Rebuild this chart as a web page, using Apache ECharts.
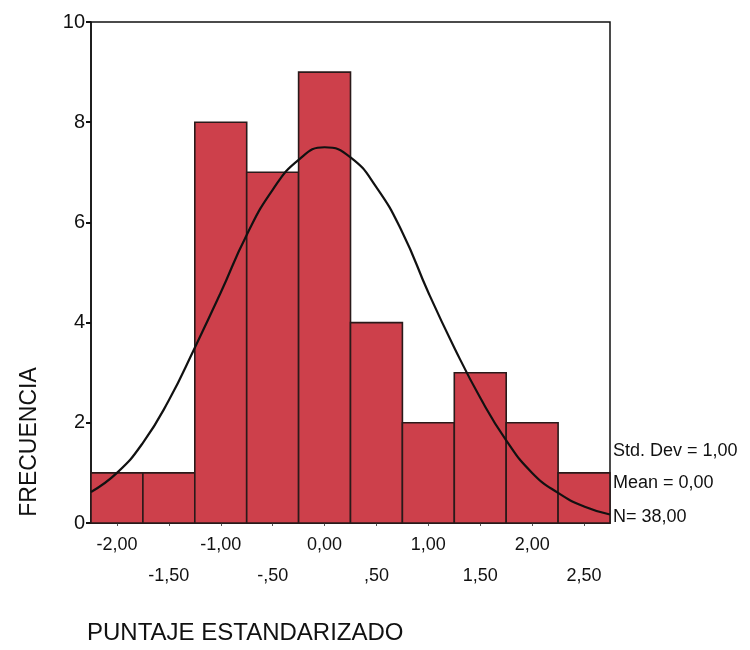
<!DOCTYPE html>
<html>
<head>
<meta charset="utf-8">
<script src="https://cdn.jsdelivr.net/npm/echarts@6/dist/echarts.min.js"></script>
<style>
html,body{margin:0;padding:0;background:#fff;}
#chart{width:750px;height:650px;}
</style>
</head>
<body>
<div id="chart"></div>
<script>
// ---- data ----
const binCenters = [-2.0, -1.5, -1.0, -0.5, 0.0, 0.5, 1.0, 1.5, 2.0, 2.5];
const counts = [1, 1, 8, 7, 9, 4, 2, 3, 2, 1];
const binWidth = 0.5;
// normal curve
const curveX = [-2.25, -2.0, -1.75, -1.5, -1.25, -1.0, -0.75, -0.5, -0.25, 0.0, 0.25, 0.5, 0.75, 1.0, 1.25, 1.5, 1.75, 2.0, 2.25, 2.5, 2.75];
const curveY = [0.62, 1.0, 1.6, 2.45, 3.5, 4.6, 5.75, 6.65, 7.25, 7.5, 7.3, 6.7, 5.8, 4.6, 3.5, 2.5, 1.65, 1.0, 0.6, 0.33, 0.17];
const yTickValues = [0, 2, 4, 6, 8, 10];
const yTickLabels = ['0', '2', '4', '6', '8', '10'];
const xRow1Values = [-2, -1, 0, 1, 2];
const xRow1Labels = ['-2,00', '-1,00', '0,00', '1,00', '2,00'];
const xRow2Values = [-1.5, -0.5, 0.5, 1.5, 2.5];
const xRow2Labels = ['-1,50', '-,50', ',50', '1,50', '2,50'];
const statsLabels = ['Std. Dev = 1,00', 'Mean = 0,00', 'N= 38,00'];
const yTitle = 'FRECUENCIA';
const xTitle = 'PUNTAJE ESTANDARIZADO';

function lookup(vals, labels, v) {
  for (let i = 0; i < vals.length; i++) if (Math.abs(vals[i] - v) < 1e-6) return labels[i];
  return '';
}

const FONT = '"Liberation Sans", Arial, sans-serif';
const chart = echarts.init(document.getElementById('chart'));
chart.setOption({
  animation: false,
  backgroundColor: '#fff',
  grid: { left: 91, right: 140, top: 22, bottom: 127, show: true, borderColor: '#111', borderWidth: 1.5, backgroundColor: 'transparent' },
  xAxis: [
    {
      type: 'value', min: -2.25, max: 2.75,
      axisLine: { show: true, onZero: false, lineStyle: { color: '#111', width: 1.5 } },
      axisTick: { show: true, length: 3, customValues: binCenters, lineStyle: { color: '#555' } },
      splitLine: { show: false },
      axisLabel: {
        customValues: xRow1Values, margin: 13, fontSize: 18, color: '#111', fontFamily: FONT,
        formatter: v => lookup(xRow1Values, xRow1Labels, v)
      }
    },
    {
      type: 'value', min: -2.25, max: 2.75, position: 'bottom',
      axisLine: { show: false, onZero: false }, axisTick: { show: false }, splitLine: { show: false },
      axisLabel: {
        customValues: xRow2Values, margin: 44, fontSize: 18, color: '#111', fontFamily: FONT,
        formatter: v => lookup(xRow2Values, xRow2Labels, v)
      }
    }
  ],
  yAxis: {
    type: 'value', min: 0, max: 10, interval: 2,
    axisLine: { show: true, onZero: false, lineStyle: { color: '#111', width: 1.5 } },
    axisTick: { show: true, length: 5, lineStyle: { color: '#111', width: 2 } },
    splitLine: { show: false },
    axisLabel: { margin: 6, fontSize: 20, color: '#111', fontFamily: FONT,
      formatter: v => lookup(yTickValues, yTickLabels, v) }
  },
  series: [
    {
      type: 'custom',
      xAxisIndex: 0,
      encode: { x: 0, y: 1 },
      data: binCenters.map((c, i) => [c, counts[i]]),
      renderItem: function (params, api) {
        const c = api.value(0), v = api.value(1);
        const p0 = api.coord([c - binWidth / 2, v]);
        const p1 = api.coord([c + binWidth / 2, 0]);
        return {
          type: 'rect',
          shape: { x: p0[0], y: p0[1], width: p1[0] - p0[0], height: p1[1] - p0[1] },
          style: { fill: '#cd404b', stroke: '#2a1a1a', lineWidth: 1.6 }
        };
      },
      z: 2
    },
    {
      type: 'line',
      xAxisIndex: 0,
      data: curveX.map((x, i) => [x, curveY[i]]),
      smooth: true,
      showSymbol: false,
      lineStyle: { color: '#111', width: 2.2 },
      z: 3
    }
  ],
  graphic: [
    { type: 'text', x: 30, y: 442, rotation: Math.PI / 2,
      style: { text: yTitle, font: '23px ' + FONT, fill: '#111', textAlign: 'center', textVerticalAlign: 'middle' } },
    { type: 'text', x: 87, y: 633,
      style: { text: xTitle, font: '24px ' + FONT, fill: '#111', textAlign: 'left', textVerticalAlign: 'middle' } },
    { type: 'text', x: 613, y: 451,
      style: { text: statsLabels[0], font: '18px ' + FONT, fill: '#111', textAlign: 'left', textVerticalAlign: 'middle' } },
    { type: 'text', x: 613, y: 483,
      style: { text: statsLabels[1], font: '18px ' + FONT, fill: '#111', textAlign: 'left', textVerticalAlign: 'middle' } },
    { type: 'text', x: 613, y: 517,
      style: { text: statsLabels[2], font: '18px ' + FONT, fill: '#111', textAlign: 'left', textVerticalAlign: 'middle' } }
  ]
});
</script>
</body>
</html>
